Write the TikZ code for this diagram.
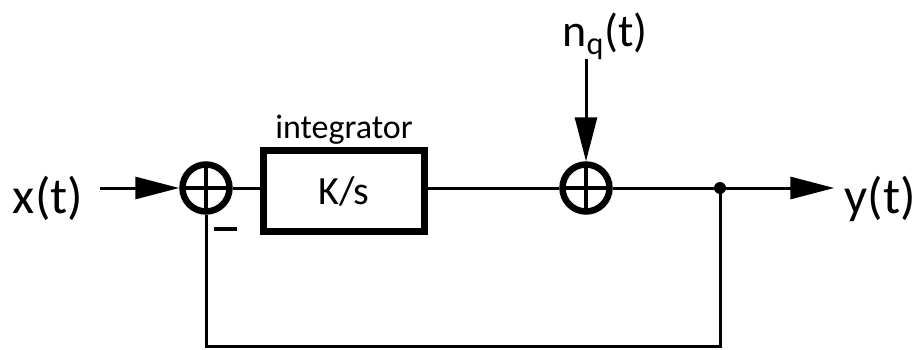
\documentclass[tikz,border=0pt]{standalone}
\usepackage{fontspec}
\setmainfont{Carlito}
\usetikzlibrary{arrows.meta,positioning}

\begin{document}
\begin{tikzpicture}[
  x=1pt,y=1pt,>={Triangle[length=44pt,width=22pt]},
  wire/.style={line width=3pt,line join=miter},
  sum/.style={circle,draw,line width=6.5pt,minimum size=47pt,inner sep=0pt,
    path picture={\draw[line width=4pt] (path picture bounding box.north) -- (path picture bounding box.south)
      (path picture bounding box.west) -- (path picture bounding box.east);}},
  block/.style={draw,line width=7pt,minimum width=161pt,minimum height=81pt,inner sep=0pt,font=\fontsize{40}{44}\selectfont},
  sig/.style={inner sep=0pt,anchor=base,font=\fontsize{51}{56}\selectfont}
]
  \useasboundingbox (0,0) rectangle (919,349);
  \node[sum] (sum1) at (206,161) {};
  \node[block] (integ) at (344,158) {K/s};
  \node[font=\fontsize{34}{38}\selectfont,inner sep=0pt,above=2pt of integ] (intlabel) {integrator};
  \node[sum] (sum2) at (586,161) {};
  \node[sig] (x) at (48,136) {x(t)};
  \node[sig] (y) at (880,136) {y(t)};
  \node[sig,font=\fontsize{46}{50}\selectfont] (nq) at (605,302) {n\textsubscript{q}(t)};
  \node[inner sep=0pt] (minus) at (225,120) {\rule{23pt}{3.5pt}};
  \coordinate (split) at (720,161);
  \coordinate (fb) at (720,2.5);

  \draw[wire,->,shorten <=17pt] (x.east |- sum1) -- (sum1.west);
  \draw[wire] (sum1.east) -- (integ.west |- sum1);
  \draw[wire] (integ.east |- sum2) -- (sum2.west);
  \draw[wire,->,shorten >=10pt] (sum2.east) -- (y.west |- sum2);
  \draw[wire,->] (nq.south -| sum2.north) -- (sum2.north);
  \draw[wire] (split) -- (fb) -| (sum1.south);
  \fill (split) circle (6);
\end{tikzpicture}
\end{document}
